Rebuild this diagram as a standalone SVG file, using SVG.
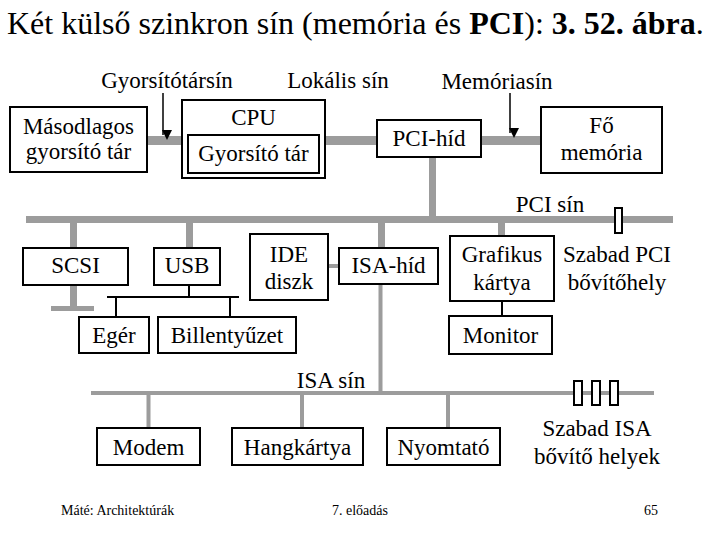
<svg xmlns="http://www.w3.org/2000/svg" width="720" height="540" viewBox="0 0 720 540">
<style>
.box{fill:#fff;stroke:#000;stroke-width:2}
.bus{fill:#9c9c9c}
.wire{stroke:#000;stroke-width:2;fill:none}
.slot{fill:#fff;stroke:#000;stroke-width:2}
</style>
<defs>
<marker id="ah" markerWidth="10" markerHeight="10" refX="5" refY="9" orient="auto" markerUnits="userSpaceOnUse" viewBox="0 0 10 10">
<path d="M0,0 L5,10 L10,0 Z" fill="#000" transform="rotate(-90 5 5)"/>
</marker>
</defs>
<rect width="720" height="540" fill="#fff"/>
<text x="7" y="34" font-family="Liberation Serif" font-size="32">Két külső szinkron sín (memória és <tspan font-weight="bold">PCI</tspan>): <tspan font-weight="bold">3. 52. ábra</tspan>.</text>

<g id="connectors">
<rect class="bus" x="147" y="136" width="35" height="9"/>
<rect class="bus" x="325" y="136" width="52" height="9"/>
<rect class="bus" x="481" y="136" width="60" height="9"/>
<rect class="bus" x="429" y="157" width="7" height="60"/>
<rect class="bus" x="26" y="216" width="647" height="7"/>
<rect class="bus" x="70" y="223" width="7" height="25"/>
<rect class="bus" x="70" y="285" width="7" height="22"/>
<rect class="bus" x="51" y="306" width="43" height="5"/>
<rect class="bus" x="186" y="223" width="7" height="25"/>
<rect class="bus" x="378" y="223" width="7" height="25"/>
<rect class="bus" x="498" y="223" width="7" height="13"/>
<rect class="bus" x="328" y="264" width="11" height="4"/>
<rect class="bus" x="378.5" y="284" width="4" height="108"/>
<rect class="bus" x="91" y="391" width="563" height="4"/>
<rect class="bus" x="146.5" y="395" width="4" height="33"/>
<rect class="bus" x="300" y="395" width="4" height="33"/>
<rect class="bus" x="446" y="395" width="4" height="33"/>
<path class="wire" d="M189,285 V297 M107,297 H239 M116,297 V317 M230,297 V317"/>
<path class="wire" d="M502,301 V316"/>
<line x1="163" y1="93" x2="163" y2="135" stroke="#000" stroke-width="1.5" marker-end="url(#ah)"/>
<line x1="510" y1="93" x2="510" y2="133" stroke="#000" stroke-width="1.5" marker-end="url(#ah)"/>
<rect class="slot" x="615" y="208" width="7" height="25"/>
<rect class="slot" x="574" y="381" width="8" height="24"/>
<rect class="slot" x="592" y="381" width="8" height="24"/>
<rect class="slot" x="610" y="381" width="8" height="24"/>
</g>

<g font-family="Liberation Serif" font-size="23" text-anchor="middle">
<g id="labels">
<text x="167" y="88">Gyorsítótársín</text>
<text x="338" y="88">Lokális sín</text>
<text x="497" y="89">Memóriasín</text>
<text x="550" y="212">PCI sín</text>
<text x="617" y="262">Szabad PCI</text>
<text x="617" y="290">bővítőhely</text>
<text x="331" y="388">ISA sín</text>
<text x="597" y="436">Szabad ISA</text>
<text x="597" y="464">bővítő helyek</text>
</g>
<g id="masodlagos"><rect class="box" x="10" y="107" width="137" height="65"/><text x="78.5" y="134">Másodlagos</text><text x="78.5" y="159">gyorsító tár</text></g>
<g id="cpu"><rect class="box" x="182" y="100" width="143" height="78"/><text x="253.5" y="125">CPU</text></g>
<g id="gyorsito"><rect class="box" x="188" y="135" width="131" height="38"/><text x="253.5" y="161">Gyorsító tár</text></g>
<g id="pcihid"><rect class="box" x="377" y="120" width="104" height="37"/><text x="429" y="146">PCI-híd</text></g>
<g id="fomemoria"><rect class="box" x="541" y="107" width="121" height="66"/><text x="601.5" y="133">Fő</text><text x="601.5" y="160">memória</text></g>
<g id="scsi"><rect class="box" x="23" y="248" width="105" height="37"/><text x="75.5" y="273">SCSI</text></g>
<g id="usb"><rect class="box" x="154" y="248" width="66" height="37"/><text x="187" y="273">USB</text></g>
<g id="ide"><rect class="box" x="250" y="234" width="78" height="66"/><text x="289" y="262">IDE</text><text x="289" y="289">diszk</text></g>
<g id="isahid"><rect class="box" x="339" y="248" width="99" height="36"/><text x="388.5" y="273">ISA-híd</text></g>
<g id="grafikus"><rect class="box" x="450" y="236" width="104" height="65"/><text x="502" y="262">Grafikus</text><text x="502" y="290">kártya</text></g>
<g id="eger"><rect class="box" x="79" y="317" width="70" height="36"/><text x="114" y="343">Egér</text></g>
<g id="billentyuzet"><rect class="box" x="158" y="317" width="138" height="36"/><text x="227" y="343">Billentyűzet</text></g>
<g id="monitor"><rect class="box" x="449" y="316" width="103" height="38"/><text x="500.5" y="343">Monitor</text></g>
<g id="modem"><rect class="box" x="97" y="428" width="103" height="37"/><text x="148.5" y="455">Modem</text></g>
<g id="hangkartya"><rect class="box" x="232" y="428" width="131" height="37"/><text x="297.5" y="455">Hangkártya</text></g>
<g id="nyomtato"><rect class="box" x="387" y="428" width="113" height="37"/><text x="443.5" y="455">Nyomtató</text></g>
</g>

<g id="footer" font-family="Liberation Serif" font-size="14">
<text x="61" y="515">Máté: Architektúrák</text>
<text x="360" y="515" text-anchor="middle">7. előadás</text>
<text x="651" y="515" text-anchor="middle">65</text>
</g>
</svg>
